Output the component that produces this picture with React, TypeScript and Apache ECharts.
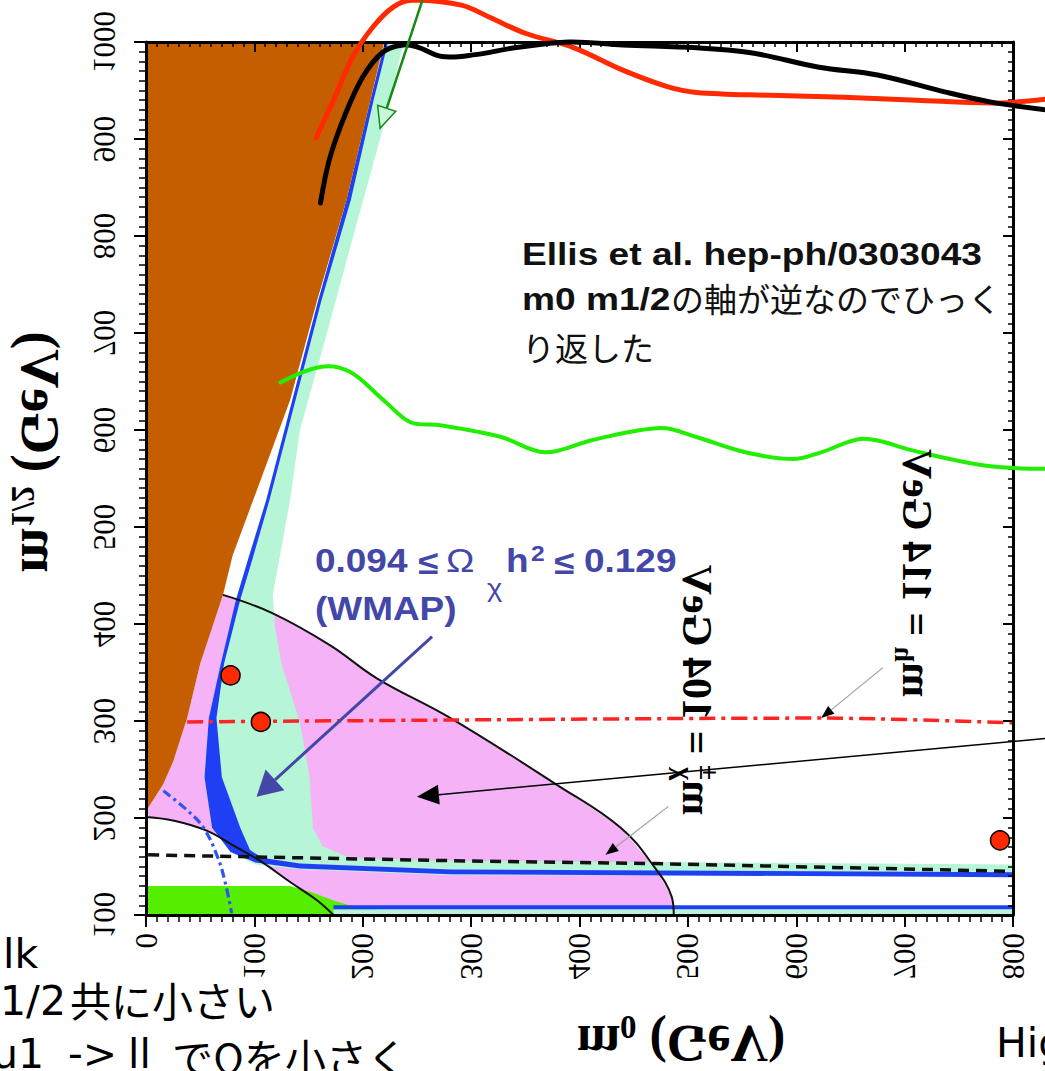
import React, { useEffect, useRef } from "react";
import * as echarts from "echarts";

// ---- axis ticks ----
const X_TICKS = [0, 100, 200, 300, 400, 500, 600, 700, 800];
const Y_TICKS = [100, 200, 300, 400, 500, 600, 700, 800, 900, 1000];

// ---- regions [m0, m1/2] (GeV) ----
const stauLspRegion = [
  [0, 1000], [220, 1000], [218, 992], [207, 940], [185, 837], [158, 734], [133, 631],
  [99, 528], [80, 471], [71, 430], [50, 359], [38, 303], [25, 258], [16, 235], [0, 207],
];
const gMinus2Region = [
  [0, 207], [16, 235], [25, 258], [38, 303], [50, 359], [71, 430],
  [117, 411], [170, 378], [213, 344], [281, 303], [378, 235], [438, 190], [470, 148], [485, 119], [487, 100],
  [173, 100], [158, 115], [133, 134], [105, 156], [80, 172], [56, 187], [27, 197], [0, 201],
];
const bsgRegion = [
  [0, 130], [133, 130], [154, 123], [173, 115], [191, 109], [219, 105], [219, 100], [0, 100],
];
const oldCdmBand = [
  [220, 1000], [245, 1000], [236, 992], [225, 940], [216, 900], [191, 799], [167, 700], [142, 600],
  [133, 528], [117, 430], [119, 397], [125, 359], [142, 299], [151, 242], [154, 190], [163, 171],
  [188, 159], [281, 156], [800, 152], [800, 140], [281, 141], [142, 147], [101, 152],
  [78, 165], [61, 190], [54, 242], [58, 303], [69, 359], [83, 425], [94, 466], [111, 528],
  [135, 631], [159, 734], [185, 837], [207, 940],
];
const oldCdmBottomStrip = [[173, 100], [173, 106], [800, 106], [800, 100]];
const wmapBand = [
  [220, 998], [207, 940], [185, 837], [159, 734], [135, 631], [111, 528], [94, 466], [83, 425],
  [69, 359], [58, 303], [54, 242], [61, 190], [78, 165], [101, 154], [142, 148], [281, 142], [800, 139],
  [800, 144], [281, 147], [142, 153], [107, 159], [96, 167], [87, 190], [70, 242], [65, 303],
  [72, 359], [87, 425], [98, 466], [114, 528], [138, 631], [162, 734], [189, 837], [210, 940], [223, 998],
];
const wmapBottomLine = [[173, 108], [800, 108]];

// ---- contour lines ----
const gMinus2Edge = [
  [71, 430], [117, 411], [170, 378], [213, 344], [281, 303], [378, 235], [438, 190], [470, 148], [485, 119], [487, 100],
];
const gMinus2LowerEdge = [[0, 201], [27, 197], [56, 187], [80, 172], [105, 156], [133, 134], [158, 115], [173, 100]];
const higgsLine = [[38, 299], [281, 301], [624, 303], [800, 298]];
const charginoLine = [[2, 162], [281, 156], [470, 153], [800, 145]];
const selectronLine = [[16, 228], [38, 208], [53, 190], [66, 160], [73, 134], [79, 102]];

// ---- hand-drawn overlay curves ----
const redCurve = [
  [157, 901], [173, 940], [191, 985], [209, 1015], [228, 1036], [245, 1043], [291, 1038], [318, 1025],
  [350, 1009], [395, 994], [440, 971], [481, 954], [508, 948], [576, 945], [644, 943], [711, 940],
  [780, 937], [802, 938], [830, 941],
];
const blackCurve = [
  [161, 834], [169, 878], [183, 923], [200, 964], [219, 990], [237, 997], [250, 995], [273, 985],
  [304, 987], [340, 994], [390, 1000], [440, 997], [508, 994], [558, 989], [621, 974], [675, 966],
  [739, 948], [780, 938], [830, 930],
];
const greenCurve = [
  [124, 649], [161, 665], [188, 660], [219, 631], [244, 608], [271, 605], [327, 593], [368, 577],
  [413, 590], [475, 602], [507, 593], [553, 577], [597, 570], [623, 577], [662, 591], [707, 579],
  [746, 569], [784, 562], [830, 560],
];
const benchmarkPoints = [[78, 347], [106, 299], [788, 177]];

// ---- annotation arrows [from, to] ----
const greenArrow = [[255, 1043], [216, 911]];
const wmapArrow = [[264, 387], [102, 222]];
const g2Arrow = [[830, 282], [250, 222]];
const charginoArrow = [[482, 212], [424, 162]];
const higgsArrow = [[680, 355], [623, 303]];

const SERIF = '"Liberation Serif", "Times New Roman", serif';
const SANS = '"Liberation Sans", Arial, sans-serif';
const CJK = '"Noto Sans CJK JP", sans-serif';
const LAT = '"DejaVu Sans", sans-serif';

let measureCtx: CanvasRenderingContext2D | null = null;
function textWidth(t: string, size: number, weight: string, family: string) {
  if (!measureCtx) measureCtx = document.createElement("canvas").getContext("2d");
  if (!measureCtx) return t.length * size * 0.5;
  measureCtx.font = `${weight} ${size}px ${family}`;
  return measureCtx.measureText(t).width;
}

type Piece = { t: string; s: number; w?: string; dy?: number; stack?: boolean };
function composite(pieces: Piece[], family: string, color: string, cx: number, cy: number, rotation: number, scaleY: number, z: number) {
  let cursor = 0;
  let lastStart = 0;
  const placed = pieces.map((p) => {
    const width = textWidth(p.t, p.s, p.w || "bold", family);
    let x: number;
    if (p.stack) {
      x = lastStart;
      cursor = Math.max(cursor, x + width);
    } else {
      x = cursor;
      lastStart = x;
      cursor = x + width;
    }
    return { p, x };
  });
  const total = cursor;
  return {
    type: "group",
    x: cx,
    y: cy,
    rotation,
    scaleY,
    z,
    children: placed.map(({ p, x }) => ({
      type: "text",
      z,
      x: x - total / 2,
      y: p.dy || 0,
      style: {
        text: p.t,
        fontSize: p.s,
        fontWeight: p.w || "bold",
        fontFamily: family,
        fill: color,
        align: "left",
        verticalAlign: "middle",
      },
    })),
  };
}

function arrowEls(p0: number[], p1: number[], headLen: number, headW: number, color: string, width: number, headFill: string, headStroke: string | null, z: number) {
  const dx = p1[0] - p0[0];
  const dy = p1[1] - p0[1];
  const L = Math.hypot(dx, dy);
  const ux = dx / L;
  const uy = dy / L;
  const bx = p1[0] - ux * headLen;
  const by = p1[1] - uy * headLen;
  const nx = -uy;
  const ny = ux;
  return [
    { type: "line", z, shape: { x1: p0[0], y1: p0[1], x2: bx, y2: by }, style: { stroke: color, lineWidth: width } },
    {
      type: "polygon",
      z: z + 1,
      shape: { points: [[p1[0], p1[1]], [bx + (nx * headW) / 2, by + (ny * headW) / 2], [bx - (nx * headW) / 2, by - (ny * headW) / 2]] },
      style: { fill: headFill, stroke: headStroke || headFill, lineWidth: headStroke ? 1.5 : 0 },
    },
  ];
}

function polySeries(name: string, pts: number[][], color: string, z: number) {
  return {
    type: "custom",
    name,
    coordinateSystem: "cartesian2d",
    data: pts,
    z,
    silent: true,
    renderItem: (params: any, api: any) => {
      if (params.dataIndex !== 0) return { type: "group", children: [] };
      return {
        type: "polygon",
        shape: { points: pts.map((p) => api.coord(p)) },
        style: { fill: color, stroke: null },
      };
    },
  };
}

// free curve drawn through the axes' scales, allowed to run outside the frame
function curveSeries(name: string, pts: number[][], color: string, width: number, z: number) {
  return {
    type: "custom",
    name,
    coordinateSystem: "cartesian2d",
    data: pts,
    z,
    clip: false,
    silent: true,
    renderItem: (params: any, api: any) => {
      if (params.dataIndex !== 0) return { type: "group", children: [] };
      return {
        type: "polyline",
        shape: { points: pts.map((p) => api.coord(p)), smooth: 0.35 },
        style: { stroke: color, lineWidth: width, fill: null, lineCap: "round", lineJoin: "round" },
      };
    },
  };
}

function lineSeries(name: string, pts: number[][], color: string, width: number, type: any, z: number, smooth: number | boolean) {
  return {
    type: "line",
    name,
    data: pts,
    symbol: "none",
    showSymbol: false,
    smooth,
    clip: false,
    z,
    silent: true,
    lineStyle: { color, width, type },
  };
}

function axis(pos: string, inside: boolean, isX: boolean) {
  return {
    type: "value",
    position: pos,
    min: isX ? 0 : 100,
    max: isX ? 800 : 1000,
    interval: 100,
    z: 5,
    axisLine: { show: true, onZero: false, lineStyle: { color: "#000", width: 3 } },
    axisTick: { show: true, inside, length: inside ? 10 : 12, lineStyle: { color: "#000", width: 2 } },
    minorTick: { show: true, splitNumber: 10, length: inside ? 5 : 7, lineStyle: { color: "#000", width: 1.5 } },
    axisLabel: { show: false },
    splitLine: { show: false },
    minorSplitLine: { show: false },
  };
}

export default function App() {
  const ref = useRef<HTMLDivElement>(null);
  useEffect(() => {
    if (!ref.current) return;
    const chart = echarts.init(ref.current, null, { renderer: "svg" });
    chart.setOption({
      animation: false,
      backgroundColor: "#ffffff",
      grid: { left: 146, right: 32, top: 42, bottom: 156, containLabel: false },
      xAxis: [axis("bottom", false, true), axis("top", true, true)],
      yAxis: [axis("left", false, false), axis("right", true, false)],
      series: [
        polySeries("g-2", gMinus2Region, "#f5b2f6", 1),
        polySeries("b->sgamma", bsgRegion, "#55ee00", 1.1),
        polySeries("0.1<Oh2<0.3", oldCdmBand, "#b6f5d6", 1.2),
        polySeries("0.1<Oh2<0.3 bottom", oldCdmBottomStrip, "#b6f5d6", 1.2),
        polySeries("WMAP", wmapBand, "#1f3ff5", 1.3),
        polySeries("stau LSP", stauLspRegion, "#c45e00", 1.4),
        lineSeries("WMAP bottom", wmapBottomLine, "#1f3ff5", 4, "solid", 1.5, false),
        lineSeries("g-2 edge", gMinus2Edge, "#111", 2, "solid", 2, 0.4),
        lineSeries("g-2 lower edge", gMinus2LowerEdge, "#111", 2, "solid", 2, 0.4),
        lineSeries("m_h = 114 GeV", higgsLine, "#ff2424", 3.5, [16, 6, 4, 6], 2.2, 0.3),
        lineSeries("m_chi = 104 GeV", charginoLine, "#111", 3.5, [11, 7], 2.2, false),
        lineSeries("m_e = 99 GeV", selectronLine, "#2f55f0", 3.2, [9, 4, 3, 4], 2.2, 0.4),
        curveSeries("red", redCurve, "#ff2a00", 5, 10),
        curveSeries("black", blackCurve, "#000", 5, 10),
        curveSeries("green", greenCurve, "#22ee00", 4, 10),
        {
          type: "scatter",
          name: "points",
          data: benchmarkPoints,
          symbol: "circle",
          symbolSize: 19,
          z: 12,
          silent: true,
          clip: false,
          itemStyle: { color: "#ff2a00", borderColor: "#000", borderWidth: 1.5, opacity: 1 },
        },
      ],
    });

    const px = (p: number[]) => chart.convertToPixel({ xAxisIndex: 0, yAxisIndex: 0 }, p) as number[];
    const Z = 50;
    const g: any[] = [];

    // mirrored tick labels (reading upward, glyphs facing right)
    X_TICKS.forEach((v) => {
      const p = px([v, 100]);
      g.push({
        type: "text", z: Z, x: p[0], y: p[1] + 18, rotation: Math.PI / 2, scaleY: -1,
        style: { text: String(v), fontSize: 31, fontFamily: SERIF, fill: "#000", align: "right", verticalAlign: "middle" },
      });
    });
    Y_TICKS.forEach((v) => {
      const p = px([0, v]);
      g.push({
        type: "text", z: Z, x: p[0] - 42, y: p[1], rotation: Math.PI / 2, scaleY: -1,
        style: { text: String(v), fontSize: 31, fontFamily: SERIF, fill: "#000", align: "center", verticalAlign: "middle" },
      });
    });

    // axis titles (mirrored)
    g.push(composite([{ t: "m", s: 54 }, { t: "1/2", s: 33, dy: 17 }, { t: " (GeV)", s: 54 }], SERIF, "#000", 40, 452, Math.PI / 2, -1, Z));
    g.push(composite([{ t: "m", s: 52 }, { t: "0", s: 33, dy: 16 }, { t: " (GeV)", s: 52 }], SERIF, "#000", 681, 1043, 0, -1, Z));
    // contour labels (mirrored)
    g.push(composite([{ t: "m", s: 42 }, { t: "χ", s: 28, dy: 13 }, { t: "±", s: 28, dy: -12, stack: true }, { t: " = 104 GeV", s: 42 }], SERIF, "#000", 697, 690, Math.PI / 2, -1, Z));
    g.push(composite([{ t: "m", s: 42 }, { t: "h", s: 28, dy: 13 }, { t: " = 114 GeV", s: 42 }], SERIF, "#000", 917, 573, Math.PI / 2, -1, Z));

    // arrows
    g.push(...arrowEls(px(charginoArrow[0]), px(charginoArrow[1]), 13, 10, "#a0a0a0", 1.2, "#000", null, Z));
    g.push(...arrowEls(px(higgsArrow[0]), px(higgsArrow[1]), 13, 10, "#a0a0a0", 1.2, "#000", null, Z));
    g.push(...arrowEls(px(g2Arrow[0]), px(g2Arrow[1]), 22, 20, "#000", 1.5, "#000", null, Z));
    g.push(...arrowEls(px(wmapArrow[0]), px(wmapArrow[1]), 25, 28, "#4347a8", 3, "#4347a8", null, Z));
    g.push(...arrowEls(px(greenArrow[0]), px(greenArrow[1]), 21, 19, "#168a16", 2.5, "#c8f7dc", "#168a16", Z));

    // WMAP label
    const wc = "#4347a8";
    const wt = (text: string, x: number, y: number, size: number, weight: string) => ({
      type: "text", z: Z, x, y, scaleX: 1.12,
      style: { text, fontSize: size, fontWeight: weight, fontFamily: SANS, fill: wc, align: "left", verticalAlign: "middle" },
    });
    g.push(wt("0.094", 315, 560, 33, "bold"));
    g.push(wt("≤", 418, 562, 33, "bold"));
    g.push(wt("Ω", 446, 560, 34, "normal"));
    g.push(wt("χ", 487, 588, 26, "normal"));
    g.push(wt("h", 506, 560, 33, "bold"));
    g.push(wt("2", 531, 553, 22, "bold"));
    g.push(wt("≤", 554, 562, 33, "bold"));
    g.push(wt("0.129", 584, 560, 33, "bold"));
    g.push(wt("(WMAP)", 315, 608, 33, "bold"));

    // Ellis note
    g.push({
      type: "text", z: Z, x: 522, y: 254, scaleX: 1.16,
      style: { text: "Ellis et al. hep-ph/0303043", fontSize: 32, fontWeight: "bold", fontFamily: SANS, fill: "#111", align: "left", verticalAlign: "middle" },
    });
    g.push({
      type: "text", z: Z, x: 522, y: 299, scaleX: 1.16,
      style: { text: "m0 m1/2", fontSize: 32, fontWeight: "bold", fontFamily: SANS, fill: "#111", align: "left", verticalAlign: "middle" },
    });
    g.push({
      type: "text", z: Z, x: 671, y: 298,
      style: { text: "の軸が逆なのでひっく", fontSize: 33, fontFamily: CJK, fill: "#111", align: "left", verticalAlign: "middle" },
    });
    g.push({
      type: "text", z: Z, x: 522, y: 347,
      style: { text: "り返した", fontSize: 33, fontFamily: CJK, fill: "#111", align: "left", verticalAlign: "middle" },
    });

    // slide text cut off at the page edges
    const bt = (text: string, x: number, y: number, align: string, family: string) => ({
      type: "text", z: Z, x, y,
      style: { text, fontSize: 41, fontFamily: family, fill: "#000", align, verticalAlign: "middle" },
    });
    const lkRight = 3 + textWidth("lk", 41, "normal", LAT);
    g.push(bt("Bulk", lkRight, 954, "right", LAT));
    g.push(bt("m0 m1/2", 66, 1001, "right", LAT));
    g.push(bt("共に小さい", 70, 999, "left", CJK));
    g.push(bt("neu1 neu1", 44, 1054, "right", LAT));
    g.push(bt("->", 68, 1054, "left", LAT));
    g.push(bt("ll", 128, 1054, "left", LAT));
    g.push(bt("でΩを小さく", 172, 1056, "left", CJK));
    g.push(bt("Higgs", 996, 1043, "left", LAT));

    chart.setOption({ graphic: g });
    return () => chart.dispose();
  }, []);
  return <div ref={ref} style={{ position: "absolute", left: 0, top: 0, width: 1045, height: 1071 }} />;
}
